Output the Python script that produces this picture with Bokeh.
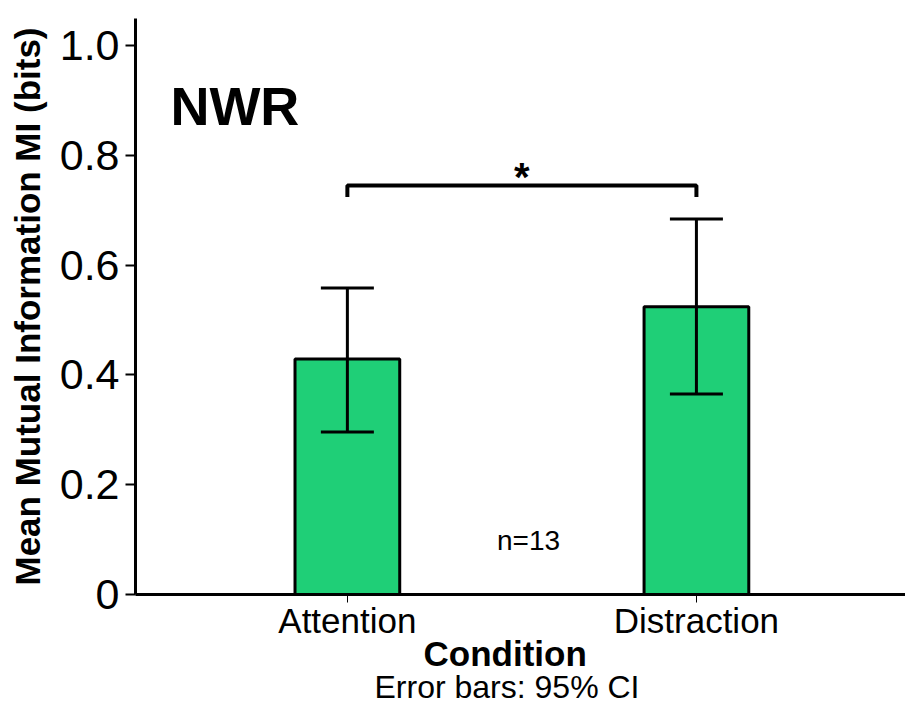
from bokeh.plotting import figure
from bokeh.models import Range1d, FixedTicker, Whisker, TeeHead, ColumnDataSource, Title
from bokeh.embed import file_html
from bokeh.resources import INLINE
from bokeh.core.properties import value

categories = ["Attention", "Distraction"]
means = [0.429, 0.524]
ci_low = [0.296, 0.365]
ci_high = [0.558, 0.684]
y_ticks = [0, 0.2, 0.4, 0.6, 0.8, 1.0]
y_tick_labels = ["0", "0.2", "0.4", "0.6", "0.8", "1.0"]
panel_title = "NWR"
n_text = "n=13"
sig_text = "*"
x_title = "Condition"
y_title = "Mean Mutual Information MI (bits)"
note_text = "Error bars: 95% CI"

FONT = "Liberation Sans"
BAR_COLOR = "#1fcf77"

xs = list(range(len(categories)))
src = ColumnDataSource(dict(x=xs, top=means, lower=ci_low, upper=ci_high))

p = figure(width=905, height=709, output_backend="svg", toolbar_location=None,
           x_range=Range1d(-0.607, 1.599), y_range=Range1d(0, 1.049),
           min_border_left=135, min_border_top=18, min_border_right=0, min_border_bottom=114)
p.outline_line_color = None
p.xgrid.grid_line_color = None
p.ygrid.grid_line_color = None
p.background_fill_color = "white"
p.border_fill_color = "white"

p.vbar(x="x", top="top", bottom=0, width=0.30, source=src,
       fill_color=BAR_COLOR, line_color="black", line_width=3)

w = Whisker(base="x", lower="lower", upper="upper", source=src, line_width=3, line_color="black",
            level="overlay",
            upper_head=TeeHead(size=53, line_width=3, line_color="black"),
            lower_head=TeeHead(size=53, line_width=3, line_color="black"))
p.add_layout(w)

# significance bracket
p.line(x=[xs[0], xs[0], xs[1], xs[1]], y=[0.724, 0.745, 0.745, 0.724],
       line_color="black", line_width=4)
p.text(x=[(xs[0] + xs[1]) / 2], y=[0.721], text=[sig_text], text_font=value(FONT),
       text_font_style="bold", text_font_size="40px", text_align="center",
       text_baseline="bottom", text_color="black")

p.text(x=[0.519], y=[0.098], text=[n_text], text_font=value(FONT), text_font_size="28px",
       text_align="center", text_baseline="middle", text_color="black")

p.text(x=[-0.507], y=[0.89], text=[panel_title], text_font=value(FONT), text_font_style="bold",
       text_font_size="54px", text_align="left", text_baseline="middle", text_color="black")

# y axis
ya = p.yaxis[0]
ya.ticker = FixedTicker(ticks=y_ticks)
ya.major_label_overrides = {t: l for t, l in zip(y_ticks, y_tick_labels)}
ya.major_label_text_font = FONT
ya.major_label_text_font_size = "43px"
ya.major_label_text_color = "black"
ya.major_label_standoff = 6
ya.major_tick_in = 0
ya.major_tick_out = 10
ya.major_tick_line_width = 2
ya.minor_tick_line_color = None
ya.axis_line_width = 3
ya.axis_label = y_title
ya.axis_label_text_font = FONT
ya.axis_label_text_font_style = "bold"
ya.axis_label_text_font_size = "35px"
ya.axis_label_text_color = "black"
ya.axis_label_standoff = 10

# x axis
xa = p.xaxis[0]
xa.ticker = FixedTicker(ticks=xs)
xa.major_label_overrides = {i: c for i, c in zip(xs, categories)}
xa.major_label_text_font = FONT
xa.major_label_text_font_size = "35px"
xa.major_label_text_color = "black"
xa.major_label_standoff = -2
xa.major_tick_in = 0
xa.major_tick_out = 8
xa.major_tick_line_width = 1
xa.minor_tick_line_color = None
xa.axis_line_width = 3

cond = Title(text=x_title, text_font=FONT, text_font_size="35px", text_font_style="bold",
             text_color="black", align="left", offset=288, standoff=-21)
p.add_layout(cond, "below")
note = Title(text=note_text, text_font=FONT, text_font_size="32px", text_font_style="normal",
             text_color="black", align="left", offset=239, standoff=9)
p.add_layout(note, "below")

open("out.html", "w").write(file_html(p, INLINE))
